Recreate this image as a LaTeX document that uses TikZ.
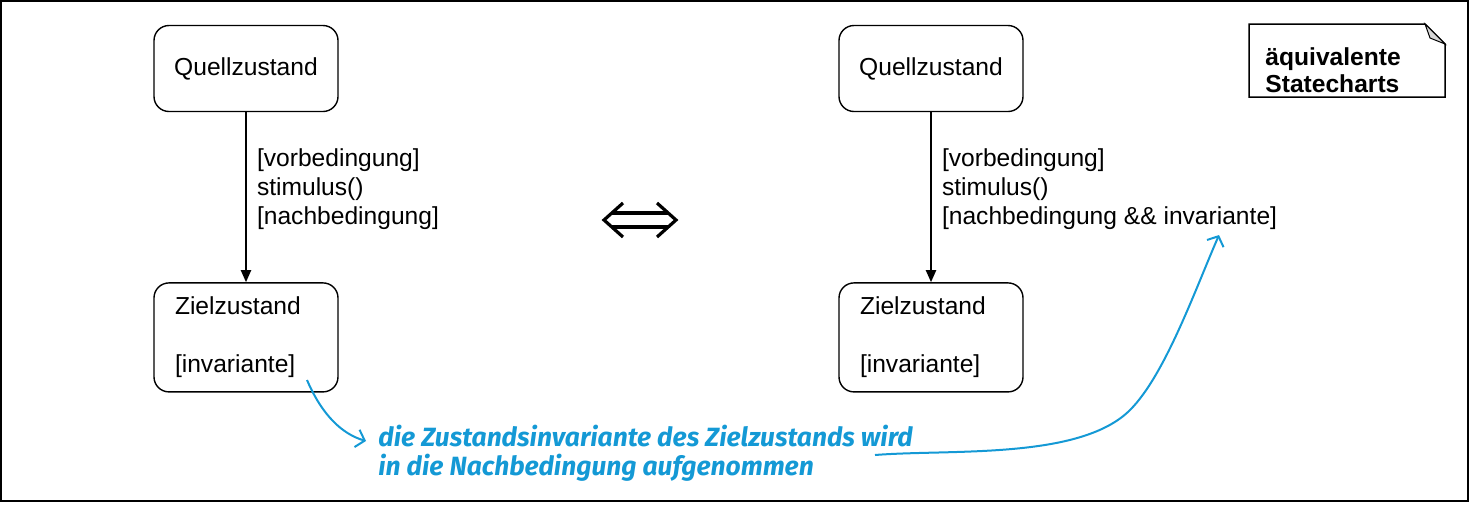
\documentclass[tikz,border=0pt]{standalone}
\usepackage{fontspec}
\setmainfont{Liberation Sans}
\newfontfamily\handfont{Fira Sans}
\usetikzlibrary{positioning,arrows.meta}
\definecolor{hintblue}{HTML}{1499D5}
\definecolor{foldgray}{HTML}{D6D6D6}

\begin{document}
\begin{tikzpicture}[x=0.5pt, y=-0.5pt,
  every node/.style={font=\fontsize{12.3}{14.5}\selectfont},
  >={Triangle[length=6pt,width=5pt]},
  state/.style={draw, rounded corners=7.5pt, line width=0.7pt, minimum width=92pt, minimum height=43pt, inner sep=0pt},
  target/.style={state, minimum height=54.5pt, text width=71pt, align=left, inner xsep=10.5pt},
  trans/.style={right=5pt, align=left, inner sep=0pt},
  hint/.style={hintblue, line width=1pt, -{Straight Barb[length=4pt,width=9pt]}}]
 \useasboundingbox (0,0) rectangle (1470,505);
 \draw[line width=0.75pt] (1,1) rectangle (1468,501);

 % linke Seite
 \node[state] (q1) at (246,68.5) {Quellzustand};
 \node[target, below=85pt of q1] (z1) {Zielzustand\\[14.5pt]{}[invariante]};
 \draw[->,line width=1pt] (q1) -- node[trans,pos=0.45] {[vorbedingung]\\stimulus()\\{}[nachbedingung]} (z1);

 % rechte Seite
 \node[state] (q2) at (931,68.5) {Quellzustand};
 \node[target, below=85pt of q2] (z2) {Zielzustand\\[14.5pt]{}[invariante]};
 \draw[->,line width=1pt] (q2) -- node[trans,pos=0.45] {[vorbedingung]\\stimulus()\\{}[nachbedingung \&\& invariante]} (z2);

 % Aequivalenz
 \begin{scope}[line width=1.6pt]
  \draw (612,213) -- (668,213) (612,227) -- (668,227);
  \draw (623,203) -- (604,220) -- (623,237);
  \draw (657,203) -- (676,220) -- (657,237);
 \end{scope}

 % Notiz
 \draw[line width=0.75pt] (1249,24) -- (1425,24) -- (1445,44) -- (1445,97) -- (1249,97) -- cycle;
 \draw[fill=foldgray,line width=0.5pt] (1425,24) -- (1430,38) -- (1445,44) -- cycle;
 \node[anchor=west, align=left, inner sep=0pt, font=\fontsize{12.3}{13.5}\selectfont\bfseries] (note) at (1265,70) {äquivalente\\Statecharts};

 % Erklaerung
 \node[anchor=west, align=left, inner sep=0pt, text=hintblue, font=\handfont\bfseries\itshape\fontsize{13.2}{14.5}\selectfont] (expl) at (378,453.5) {die Zustandsinvariante des Zielzustands wird\\in die Nachbedingung aufgenommen};
 \coordinate (inv) at (307,380);
 \coordinate (tip) at (366,441);
 \coordinate (wird) at (875,455);
 \coordinate (cond) at (1219,235);
 \draw[hint] (inv) .. controls (322,415) and (342,434) .. (tip);
 \draw[hint] (wird) .. controls (950,449) and (1080,460) .. (1130,410) .. controls (1165,375) and (1195,290) .. (cond);
\end{tikzpicture}
\end{document}
